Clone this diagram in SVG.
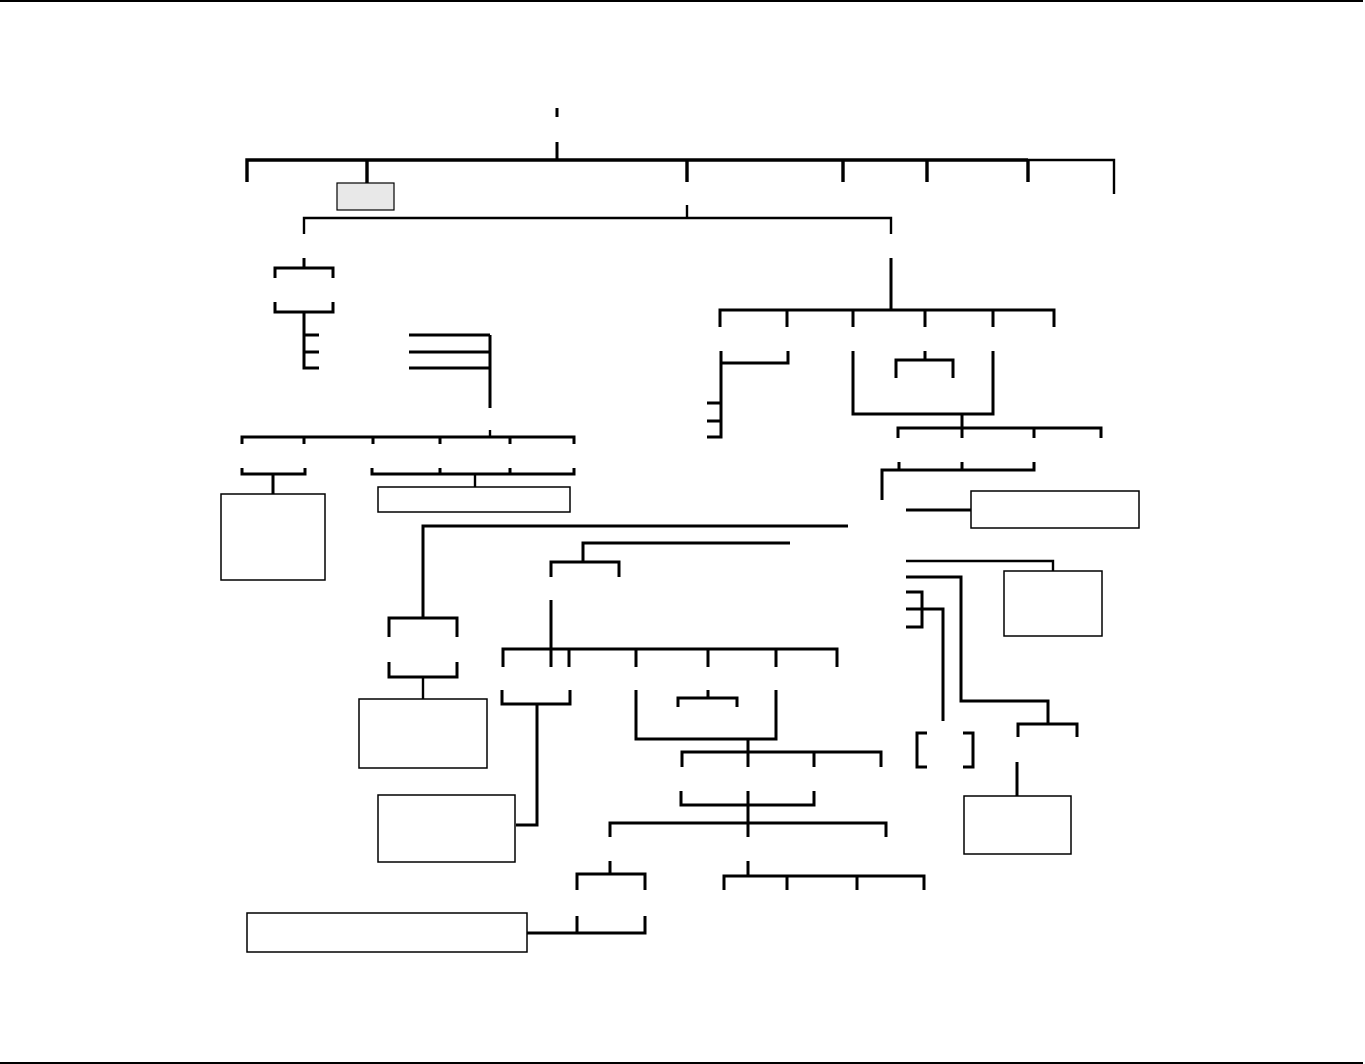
<svg xmlns="http://www.w3.org/2000/svg" width="1365" height="1064" viewBox="0 0 1365 1064">
<style>
.c{fill:none;stroke:#000;stroke-width:3;stroke-linecap:butt;stroke-linejoin:miter}
.t{stroke-width:2.4}
.box{fill:#fff;stroke:#000;stroke-width:1.5}
.gray{fill:#e8e8e8;stroke:#000;stroke-width:1.2}
.border{stroke:#000;stroke-width:2}
</style>
<rect x="0" y="0" width="1365" height="1064" fill="#fff"/>
<line class="border" x1="0" y1="1" x2="1363" y2="1"/>
<line class="border" x1="0" y1="1063" x2="1363" y2="1063"/>
<g id="connectors">
<path class="c" d="M557,108V117M557,142V160"/>
<path class="c" d="M247,182V160H1028M367,160V183M687,160V182M843,160V182M927,160V182M1028,160V182" style="stroke-width:3.4"/>
<path class="c t" d="M1028,160H1114V194"/>
<path class="c t" d="M687,205V218M304,234V218H891V234"/>
<path class="c" d="M304,258V268M275,278V268H333V278M275,302V312H333V302M304,312V368H319M304,335H319M304,352H319"/>
<path class="c" d="M409,335H490M409,352H490M409,368H490M490,335V408"/>
<path class="c t" d="M490,430V437"/>
<path class="c" d="M242,444V437H574V444M304,437V444M373,437V444M440,437V444M510,437V444"/>
<path class="c" d="M242,468V474H305V468M273,474V494"/>
<path class="c" d="M372,468V474H574V468M440,468V474M510,468V474"/>
<path class="c t" d="M475,474V487"/>
<path class="c" d="M848,526H423V618M389,637V618H457V637M389,662V677H457V662"/>
<path class="c t" d="M423,677V699"/>
<path class="c" d="M790,543H583V562M551,577V562H619V577"/>
<path class="c" d="M551,600V667M503,667V649H837V667M569,649V667M636,649V667M708,649V667M776,649V667"/>
<path class="c" d="M502,690V704H570V690M537,704V825H516"/>
<path class="c" d="M636,690V739H776V690M708,690V698M678,707V698H737V707M748,739V752"/>
<path class="c" d="M682,767V752H881V767M814,752V767M748,752V767"/>
<path class="c" d="M681,791V805H814V791M748,791V837M610,837V823H886V837"/>
<path class="c" d="M610,861V874M577,890V874H645V890"/>
<path class="c" d="M748,861V876M724,890V876H924V890M787,876V890M857,876V890"/>
<path class="c" d="M577,916V933H645V916M527,933H577"/>
<path class="c" d="M891,258V310M720,327V310H1054V327M787,310V327M853,310V327M925,310V327M993,310V327"/>
<path class="c" d="M788,351V363H721M721,351V437H707M707,403H721M707,421H721"/>
<path class="c" d="M853,351V414H993V351M925,351V360M896,378V360H953V378"/>
<path class="c" d="M962,414V428M898,438V428H1101V438M962,428V438M1034,428V438"/>
<path class="c" d="M899,462V470M962,462V470M1034,462V470H882V500"/>
<path class="c" d="M906,510H971"/>
<path class="c t" d="M906,561H1053V571"/>
<path class="c" d="M906,577H961V701H1048V724M1018,737V724H1077V737"/>
<path class="c" d="M1017,762V796"/>
<path class="c" d="M906,592H922V627H906M906,609H943V721"/>
<path class="c" d="M927,733H917V767H927M963,733H973V767H963"/>
</g>
<g id="node-gray"><rect class="gray" x="337" y="183" width="57" height="27"/></g>
<g id="node-a"><rect class="box" x="221" y="494" width="104" height="86"/></g>
<g id="node-b"><rect class="box" x="378" y="487" width="192" height="25"/></g>
<g id="node-c"><rect class="box" x="971" y="491" width="168" height="37"/></g>
<g id="node-d"><rect class="box" x="1004" y="571" width="98" height="65"/></g>
<g id="node-e"><rect class="box" x="359" y="699" width="128" height="69"/></g>
<g id="node-f"><rect class="box" x="378" y="795" width="137" height="67"/></g>
<g id="node-g"><rect class="box" x="964" y="796" width="107" height="58"/></g>
<g id="node-h"><rect class="box" x="247" y="913" width="280" height="39"/></g>
</svg>
